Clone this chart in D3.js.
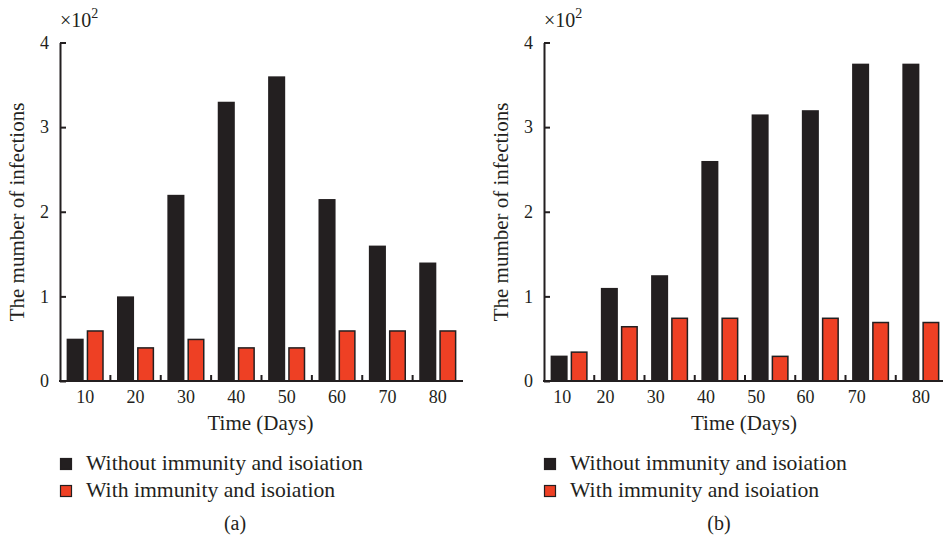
<!DOCTYPE html>
<html>
<head>
<meta charset="utf-8">
<script src="https://cdn.jsdelivr.net/npm/d3@7.9.0/dist/d3.min.js"></script>
<style>
  body { margin: 0; background: #fff; }
  svg text { font-family: "Liberation Serif", "DejaVu Serif", serif; fill: #231f20; }
</style>
</head>
<body>
<svg id="chart" width="943" height="543"></svg>
<script>
const days = [10, 20, 30, 40, 50, 60, 70, 80];
const seriesNames = ['Without immunity and isoiation', 'With immunity and isoiation'];
const yTicks = [0, 100, 200, 300, 400];

// panel (a)
const withoutA = [50, 100, 220, 330, 360, 215, 160, 140];
const withA = [60, 40, 50, 40, 40, 60, 60, 60];
// panel (b)
const withoutB = [30, 110, 125, 260, 315, 320, 375, 375];
const withB = [35, 65, 75, 75, 30, 75, 70, 70];

const ink = '#231f20';
const red = '#ee4024';

const svg = d3.select('#chart');
svg.append('rect').attr('width', 943).attr('height', 543).attr('fill', '#fff');

const panels = [
  { x0: 60, x1: 463, without: withoutA, with: withA, label: '(a)',
    labelShift: [0, 0, 0, 0, 0, 0, 0, 0] },
  { x0: 544, x1: 946, without: withoutB, with: withB, label: '(b)',
    labelShift: [-7, -14, -14, -14, -14, -15, -14, 0] }
];

const plotTop = 42.5, plotBottom = 381;
const y = d3.scaleLinear().domain([0, 400]).range([plotBottom, plotTop]);

panels.forEach((p) => {
  const g = svg.append('g');
  const x = d3.scaleBand().domain(days).range([p.x0, p.x1]);
  const sub = d3.scaleBand().domain([0, 1]).range([0, x.bandwidth()])
    .paddingInner(0.15).paddingOuter(0.33);

  // bars
  g.selectAll('rect.without')
    .data(days)
    .join('rect')
    .attr('class', 'without')
    .attr('x', (d) => x(d) + sub(0))
    .attr('width', sub.bandwidth())
    .attr('y', (d, i) => y(p.without[i]))
    .attr('height', (d, i) => plotBottom - y(p.without[i]))
    .attr('fill', ink);

  g.selectAll('rect.with')
    .data(days)
    .join('rect')
    .attr('class', 'with')
    .attr('x', (d) => x(d) + sub(1) + 0.75)
    .attr('width', sub.bandwidth() - 1.5)
    .attr('y', (d, i) => y(p.with[i]) + 0.75)
    .attr('height', (d, i) => plotBottom - y(p.with[i]) - 0.75)
    .attr('fill', red)
    .attr('stroke', ink)
    .attr('stroke-width', 1.5);

  // y axis
  const yAxis = g.append('g')
    .attr('transform', `translate(${p.x0},0)`)
    .call(d3.axisLeft(y).tickValues(yTicks).tickFormat((d) => d / 100)
      .tickSizeInner(-6).tickSizeOuter(0).tickPadding(11));
  yAxis.select('.domain').attr('stroke', ink).attr('stroke-width', 2);
  yAxis.selectAll('.tick line').attr('stroke', ink).attr('stroke-width', 2);
  yAxis.selectAll('.tick text').attr('font-size', 18)
    .attr('font-family', '"Liberation Serif", serif').attr('fill', ink);

  // x axis
  g.append('line')
    .attr('x1', p.x0 - 1).attr('x2', p.x1)
    .attr('y1', plotBottom).attr('y2', plotBottom)
    .attr('stroke', ink).attr('stroke-width', 2);
  g.selectAll('line.xtick')
    .data(days.slice(1))
    .join('line')
    .attr('class', 'xtick')
    .attr('x1', (d) => x(d)).attr('x2', (d) => x(d))
    .attr('y1', plotBottom).attr('y2', plotBottom - 6)
    .attr('stroke', ink).attr('stroke-width', 2);
  g.selectAll('text.xlab')
    .data(days)
    .join('text')
    .attr('class', 'xlab')
    .attr('x', (d, i) => x(d) + x.bandwidth() / 2 + p.labelShift[i])
    .attr('y', 403)
    .attr('text-anchor', 'middle')
    .attr('font-size', 18)
    .text((d) => d);

  // axis titles
  g.append('text')
    .attr('x', (p.x0 + p.x1) / 2 - 1)
    .attr('y', 430)
    .attr('text-anchor', 'middle')
    .attr('font-size', 21)
    .text('Time (Days)');
  g.append('text')
    .attr('transform', `translate(${p.x0 - 36},212) rotate(-90)`)
    .attr('text-anchor', 'middle')
    .attr('font-size', 21)
    .text('The mumber of infections');

  // multiplier
  const mult = g.append('text')
    .attr('x', p.x0)
    .attr('y', 27)
    .attr('font-size', 20);
  mult.append('tspan').text('\u00d710');
  mult.append('tspan').attr('dy', -9).attr('font-size', 14).text('2');

  // legend
  const lg = g.append('g').attr('transform', `translate(${p.x0},458)`);
  seriesNames.forEach((name, i) => {
    lg.append('rect')
      .attr('x', 0.5).attr('y', i * 27 + 0.5)
      .attr('width', 11).attr('height', 11)
      .attr('fill', i === 0 ? ink : red)
      .attr('stroke', ink).attr('stroke-width', 1.2);
    lg.append('text')
      .attr('x', 26)
      .attr('y', i * 27 + 12)
      .attr('font-size', 21.7)
      .text(name);
  });

  g.append('text')
    .attr('x', p.x0 + 175)
    .attr('y', 530)
    .attr('text-anchor', 'middle')
    .attr('font-size', 20)
    .text(p.label);
});
</script>
</body>
</html>
